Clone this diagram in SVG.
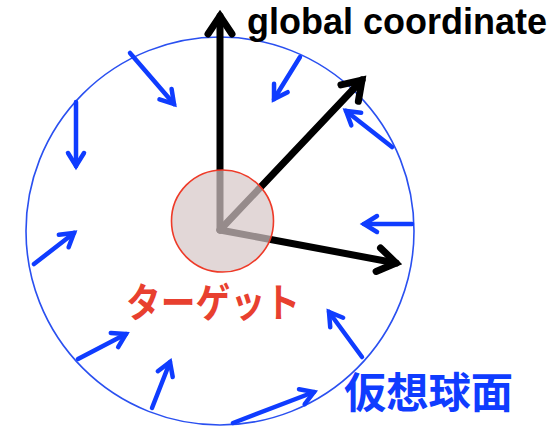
<svg xmlns="http://www.w3.org/2000/svg" width="554" height="428" viewBox="0 0 554 428">
<style>
.blue{stroke:#0f3cff;stroke-width:4.5;fill:none;stroke-linecap:round;marker-end:url(#bh)}
.black{stroke:#000;stroke-width:7;fill:none;stroke-linecap:round;marker-end:url(#kh)}
.lbl{font-family:"Noto Sans CJK JP","Liberation Sans",sans-serif;font-weight:bold}
</style>
<defs>
<marker id="bh" markerUnits="userSpaceOnUse" markerWidth="40" markerHeight="40" viewBox="-20 -20 40 40" refX="0" refY="0" orient="auto">
<path d="M-13,-8 L0,0 L-13,8" fill="none" stroke="#0f3cff" stroke-width="4.5" stroke-linecap="round" stroke-linejoin="miter"/>
</marker>
<marker id="kh" markerUnits="userSpaceOnUse" markerWidth="50" markerHeight="50" viewBox="-25 -25 50 50" refX="0" refY="0" orient="auto">
<path d="M-18,-12 L0,0 L-18,12" fill="none" stroke="#000" stroke-width="7" stroke-linecap="round" stroke-linejoin="miter"/>
</marker>
</defs>
<g id="sphere">
<circle cx="220" cy="231" r="194" fill="none" stroke="#2a50f0" stroke-width="1.6"/>
</g>
<g id="connectors">
<line class="black" x1="220" y1="230" x2="220" y2="16"/>
<line class="black" x1="220" y1="230" x2="362" y2="80"/>
<line class="black" x1="220" y1="230" x2="396" y2="263"/>
<line class="blue" x1="130" y1="53" x2="174" y2="104"/>
<line class="blue" x1="76" y1="102" x2="76" y2="166"/>
<line class="blue" x1="300" y1="57" x2="274" y2="99"/>
<line class="blue" x1="392" y1="147" x2="346" y2="111"/>
<line class="blue" x1="412" y1="224" x2="364" y2="224"/>
<line class="blue" x1="362" y1="357" x2="329" y2="312"/>
<line class="blue" x1="34" y1="264" x2="74" y2="233"/>
<line class="blue" x1="78" y1="359" x2="126" y2="334"/>
<line class="blue" x1="152" y1="408" x2="170" y2="362"/>
<line class="blue" x1="233" y1="423" x2="314" y2="392"/>
</g>
<g id="target">
<circle cx="222.5" cy="221" r="51" fill="rgb(214,198,198)" fill-opacity="0.7" stroke="#ee3a28" stroke-width="1.6"/>
<text class="lbl" x="126" y="317" font-size="40" fill="#e8402f" textLength="174" lengthAdjust="spacingAndGlyphs">ターゲット</text>
</g>
<g id="labels">
<text x="247" y="34" font-family="Liberation Sans, sans-serif" font-weight="bold" font-size="37" fill="#000" textLength="300" lengthAdjust="spacingAndGlyphs">global coordinate</text>
<text class="lbl" x="344" y="408" font-size="42" fill="#0f3cff" textLength="169" lengthAdjust="spacingAndGlyphs">仮想球面</text>
</g>
</svg>
